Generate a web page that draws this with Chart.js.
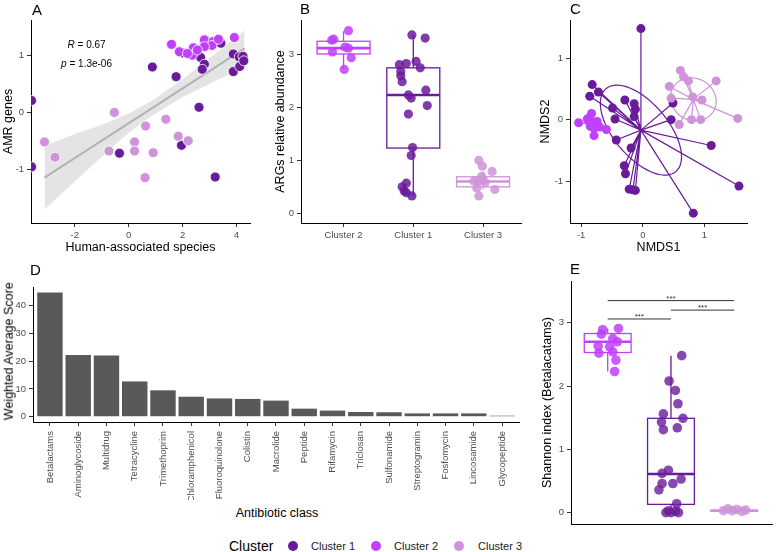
<!DOCTYPE html>
<html>
<head>
<meta charset="utf-8">
<title>Resistome clusters</title>
<script src="https://cdn.jsdelivr.net/npm/chart.js@4.4.1/dist/chart.umd.min.js"></script>
<style>
  html, body { margin: 0; padding: 0; background: #fff; }
  body { position: relative; width: 777px; height: 552px; overflow: hidden; font-family: 'Liberation Sans', Arial, sans-serif; }
  .pane { position: absolute; }
  .tag { position: absolute; font-size: 15px; line-height: 1; color: #000; }
  .lbl { position: absolute; white-space: nowrap; color: #000; font-size: 12.5px; line-height: 1; }
  .key { position: absolute; width: 10px; height: 10px; border-radius: 50%; }
  .keytxt { position: absolute; font-size: 11px; line-height: 1; color: #1a1a1a; white-space: nowrap; }
</style>
</head>
<body>
<div class="pane" id="pA"><canvas></canvas></div>
<div class="pane" id="pB"><canvas></canvas></div>
<div class="pane" id="pC"><canvas></canvas></div>
<div class="pane" id="pD"><canvas></canvas></div>
<div class="pane" id="pE"><canvas></canvas></div>

<div class="tag" style="left:32px;top:2px">A</div>
<div class="tag" style="left:300px;top:1px">B</div>
<div class="tag" style="left:570px;top:1px">C</div>
<div class="tag" style="left:30px;top:262px">D</div>
<div class="tag" style="left:570px;top:261px">E</div>

<div class="lbl" style="left:-91px;top:345px;width:200px;text-align:center;transform:rotate(-90deg)">Weighted Average Score</div>
<div class="lbl" style="left:177px;top:507px;width:200px;text-align:center">Antibiotic class</div>

<div class="lbl" style="left:229px;top:539px;font-size:14px">Cluster</div>
<div class="key" style="left:288px;top:541px;background:#6A1B9A"></div>
<div class="keytxt" style="left:311px;top:541px">Cluster 1</div>
<div class="key" style="left:371px;top:541px;background:#C040FB"></div>
<div class="keytxt" style="left:394px;top:541px">Cluster 2</div>
<div class="key" style="left:454px;top:541px;background:#CE93D8"></div>
<div class="keytxt" style="left:478px;top:541px">Cluster 3</div>

<script>
// cluster colours
const C1 = '#6A1B9A', C2 = '#C040FB', C3 = '#CE93D8';

// A: human-associated species vs AMR genes
const speciesC1 = [-3.6, -3.6, -0.34, 0.88, 1.76, 1.96, 2.61, 3.21, 2.0, 2.33, 2.67, 2.81, 2.73, 3.42, 3.88, 3.88, 4.1, 4.24, 4.12, 4.27, 2.81];
const amrC1 = [0.21, -0.96, -0.72, 0.8, 0.63, -0.58, 0.09, -1.14, 1.05, 1.04, 0.97, 0.85, 0.76, 1.22, 1.03, 0.72, 0.98, 0.99, 0.81, 0.91, 1.23];
const speciesC2 = [1.59, 1.88, 2.4, 2.36, 2.81, 3.13, 3.09, 3.33, 2.81, 3.92, 2.55, 2.18];
const amrC2 = [1.2, 1.07, 1.14, 1.01, 1.28, 1.25, 1.18, 1.29, 1.16, 1.32, 1.1, 1.04];
const speciesC3 = [-3.12, -2.73, -0.53, -0.73, 0.22, 0.22, 0.63, 0.91, 0.61, 1.38, 1.84, 2.21];
const amrC3 = [-0.52, -0.79, 0.0, -0.68, -0.52, -0.68, -0.24, -0.71, -1.15, -0.12, -0.42, -0.5];
const bandX = [-3.12, -2, -1, 0, 0.8, 2, 3, 4.3];
const bandUpper = [-0.59, -0.38, -0.22, -0.02, 0.19, 0.58, 0.96, 1.45];
const bandLower = [-1.71, -1.22, -0.78, -0.36, -0.08, 0.27, 0.5, 0.81];
const fitX = [-3.12, 4.3];
const fitY = [-1.15, 1.13];

// B: ARGs relative abundance (positions 1..3 = Cluster 2, Cluster 1, Cluster 3)
const bLabels = ['Cluster 2', 'Cluster 1', 'Cluster 3'];
const argsC2Pos = [0.83, 0.84, 1.07, 1.02, 1.07, 1.11, 1.01, 0.86];
const argsC2 = [3.26, 3.04, 3.44, 3.13, 3.11, 2.93, 2.71, 3.28];
const argsC1Pos = [1.98, 2.17, 1.8, 1.9, 2.04, 2.1, 1.82, 1.82, 1.84, 1.93, 1.97, 2.18, 2.2, 1.93, 1.99, 1.97, 1.9, 1.84, 1.9, 1.98, 1.87];
const argsC1 = [3.36, 3.3, 2.8, 2.82, 2.86, 2.74, 2.67, 2.59, 2.48, 2.23, 2.17, 2.32, 2.03, 1.87, 1.24, 1.09, 0.57, 0.5, 0.39, 0.33, 0.42];
const argsC3Pos = [2.94, 2.99, 3.13, 2.98, 2.93, 3.03, 2.91, 3.17, 2.94, 2.87, 3.0];
const argsC3 = [1.0, 0.89, 0.79, 0.7, 0.6, 0.58, 0.48, 0.45, 0.33, 0.61, 0.63];
const bLow = [2.72, 0.33, 0.45];
const bQ1 = [3.0, 1.23, 0.5];
const bMed = [3.11, 2.23, 0.6];
const bQ3 = [3.24, 2.74, 0.69];
const bHigh = [3.43, 3.36, 0.79];

// C: NMDS ordination
const nmdsX1 = [-0.03, -0.82, -0.72, -0.86, -0.49, -0.45, -0.29, -0.14, -0.12, -0.14, 0.49, 0.46, -0.43, -0.19, -0.3, -0.28, -0.22, -0.12, 1.11, 1.56, 0.82, -0.16];
const nmdsY1 = [1.48, 0.57, 0.45, 0.38, 0.19, 0.01, 0.32, 0.26, 0.17, 0.05, 0.27, 0.0, -0.33, -0.46, -0.75, -0.88, -1.13, -1.15, -0.42, -1.08, -1.52, -1.14];
const nmdsX2 = [-1.04, -0.86, -0.83, -0.9, -0.77, -0.74, -0.79, -0.79, -0.59, -0.7, -0.85];
const nmdsY2 = [-0.05, 0.04, 0.1, 0.01, -0.08, -0.03, -0.14, -0.26, -0.16, -0.12, -0.11];
const nmdsX3 = [0.61, 0.66, 0.74, 1.19, 0.43, 0.46, 0.96, 0.79, 0.94, 0.59, 1.54, 0.81];
const nmdsY3 = [0.8, 0.7, 0.63, 0.63, 0.54, 0.35, 0.32, 0.0, 0.0, -0.08, 0.02, 0.37];
const centX = [-0.03, -0.8, 0.82];
const centY = [-0.17, -0.07, 0.33];
const ellA = [0.88, 0.12, 0.38];
const ellB = [0.44, 0.08, 0.34];
const ellAngle = [-50, 0, -30];

// D: antibiotic classes
const classes = ['Betalactams', 'Aminoglycoside', 'Multidrug', 'Tetracycline', 'Trimethoprim', 'Chloramphenicol', 'Fluoroquinolone', 'Colistin', 'Macrolide', 'Peptide', 'Rifamycin', 'Triclosan', 'Sulfonamide', 'Streptogramin', 'Fosfomycin', 'Lincosamide', 'Glycopeptide'];
const scores = [44.7, 22.2, 22.0, 12.7, 9.5, 7.2, 6.6, 6.4, 5.8, 2.9, 2.2, 1.7, 1.6, 1.2, 1.2, 1.2, 0.36];

// E: Shannon index of betalactam genes
const shanC2Pos = [0.92, 1.17, 0.9, 1.08, 1.15, 0.85, 1.08, 0.86, 1.13, 1.11, 1.03];
const shanC2 = [2.89, 2.91, 2.82, 2.75, 2.7, 2.63, 2.54, 2.52, 2.41, 2.23, 2.62];
const shanC1Pos = [2.17, 1.97, 2.07, 2.11, 1.88, 2.19, 1.85, 2.1, 1.88, 1.96, 1.86, 2.16, 1.86, 2.03, 1.81, 1.92, 2.0, 2.07, 2.12, 1.96, 2.09];
const shanC1 = [2.48, 2.08, 1.93, 1.72, 1.56, 1.49, 1.43, 1.34, 1.31, 0.67, 0.62, 0.53, 0.46, 0.46, 0.36, 0.0, 0.0, 0.02, 0.0, 0.03, 0.14];
const shanC3Pos = [2.83, 2.9, 2.97, 3.04, 3.12, 3.18];
const shanC3 = [0.03, 0.06, 0.03, 0.05, 0.02, 0.04];
const eLow = [2.23, 0.0, 0.0];
const eQ1 = [2.53, 0.13, 0.02];
const eMed = [2.7, 0.61, 0.03];
const eQ3 = [2.83, 1.49, 0.04];
const eHigh = [2.91, 2.48, 0.06];
const sigFrom = [1, 2, 1];
const sigTo = [3, 3, 2];
const sigAt = [3.35, 3.2, 3.06];

Chart.defaults.font.family = "'Liberation Sans', Arial, sans-serif";
Chart.defaults.animation = false;
Chart.defaults.plugins.legend.display = false;
Chart.defaults.plugins.tooltip.enabled = false;
Chart.defaults.responsive = true;
Chart.defaults.maintainAspectRatio = false;

function pts(xs, ys) { return xs.map((x, i) => ({ x: x, y: ys[i] })); }

function alpha(hex, a) {
  const n = parseInt(hex.slice(1), 16);
  return 'rgba(' + (n >> 16) + ',' + ((n >> 8) & 255) + ',' + (n & 255) + ',' + a + ')';
}

function axis(min, max, ticks, title, fmt) {
  return {
    type: 'linear', min: min, max: max, offset: false,
    afterBuildTicks: s => { s.ticks = ticks.map(v => ({ value: v })); },
    ticks: { color: '#4D4D4D', font: { size: 9.5 }, padding: 3, autoSkip: false, maxRotation: 0, callback: fmt || (v => String(v)) },
    grid: { drawOnChartArea: false, offset: false, tickLength: 4, color: '#333', lineWidth: 1 },
    border: { display: true, color: '#000', width: 1 },
    title: title ? { display: true, text: title, color: '#000', font: { size: 12.5 }, padding: 0 } : { display: false }
  };
}

function scatter(data, color, r, order, border) {
  return {
    type: 'scatter', data: data, order: order,
    pointRadius: r, pointBackgroundColor: color,
    pointBorderColor: border || color, pointBorderWidth: border ? 0.8 : 0
  };
}

// place a canvas box and pin its chart area to fixed page coordinates
function panel(id, rect, area, cfg) {
  const box = document.getElementById(id);
  box.style.left = rect[0] + 'px';
  box.style.top = rect[1] + 'px';
  box.style.width = (rect[2] - rect[0]) + 'px';
  box.style.height = (rect[3] - rect[1]) + 'px';
  cfg.options.layout = { padding: { top: area[1] - rect[1], right: rect[2] - area[2], left: 0, bottom: 0 } };
  cfg.options.scales.y.afterFit = s => { s.width = area[0] - rect[0]; };
  cfg.options.scales.x.afterFit = s => { s.height = rect[3] - area[3]; };
  return new Chart(box.querySelector('canvas'), cfg);
}

function boxPlugin(pos, lo, q1, med, q3, hi, colors, half) {
  return {
    id: 'boxes',
    beforeDatasetsDraw(chart) {
      const { ctx, scales: { x, y } } = chart;
      ctx.save();
      pos.forEach((p, i) => {
        const xl = x.getPixelForValue(p - half), xr = x.getPixelForValue(p + half), xc = x.getPixelForValue(p);
        ctx.strokeStyle = colors[i];
        ctx.lineWidth = 1.3;
        ctx.beginPath();
        ctx.moveTo(xc, y.getPixelForValue(hi[i])); ctx.lineTo(xc, y.getPixelForValue(q3[i]));
        ctx.moveTo(xc, y.getPixelForValue(q1[i])); ctx.lineTo(xc, y.getPixelForValue(lo[i]));
        ctx.stroke();
        const yt = y.getPixelForValue(q3[i]), yb = y.getPixelForValue(q1[i]);
        ctx.fillStyle = '#fff';
        ctx.fillRect(xl, yt, xr - xl, yb - yt);
        ctx.strokeRect(xl, yt, xr - xl, yb - yt);
        ctx.lineWidth = 2.6;
        ctx.beginPath();
        const ym = y.getPixelForValue(med[i]);
        ctx.moveTo(xl, ym); ctx.lineTo(xr, ym);
        ctx.stroke();
      });
      ctx.restore();
    }
  };
}

// ---------- A ----------
panel('pA', [1, 0, 256, 255], [31, 20, 250, 223], {
  data: {
    datasets: [
      { type: 'line', data: pts(bandX, bandUpper), order: 20, borderWidth: 0, pointRadius: 0, fill: '+1', backgroundColor: 'rgba(190,190,190,0.42)' },
      { type: 'line', data: pts(bandX, bandLower), order: 21, borderWidth: 0, pointRadius: 0, fill: false },
      { type: 'line', data: pts(fitX, fitY), order: 19, borderColor: '#B3B3B3', borderWidth: 2, pointRadius: 0, fill: false },
      scatter(pts(speciesC2, amrC2), C2, 5, 1, '#fff'),
      scatter(pts(speciesC3, amrC3), C3, 5, 2, '#fff'),
      scatter(pts(speciesC1, amrC1), C1, 5, 3, '#fff')
    ]
  },
  options: {
    scales: {
      x: axis(-3.62, 4.5, [-2, 0, 2, 4], 'Human-associated species'),
      y: axis(-1.95, 1.63, [-1, 0, 1], 'AMR genes')
    }
  },
  plugins: [{
    id: 'stat',
    afterDatasetsDraw(chart) {
      const { ctx, scales: { x, y } } = chart;
      ctx.save();
      ctx.fillStyle = '#000';
      ctx.textBaseline = 'middle';
      const cx = x.getPixelForValue(-1.56);
      [['R', ' = 0.67', 1.19], ['p', ' = 1.3e-06', 0.85]].forEach(([v, rest, yy]) => {
        ctx.font = "italic 10px 'Liberation Sans', Arial, sans-serif";
        const w1 = ctx.measureText(v).width;
        ctx.font = "10px 'Liberation Sans', Arial, sans-serif";
        const w2 = ctx.measureText(rest).width;
        const x0 = cx - (w1 + w2) / 2, py = y.getPixelForValue(yy);
        ctx.font = "italic 10px 'Liberation Sans', Arial, sans-serif";
        ctx.fillText(v, x0, py);
        ctx.font = "10px 'Liberation Sans', Arial, sans-serif";
        ctx.fillText(rest, x0 + w1, py);
      });
      ctx.restore();
    }
  }]
});

// ---------- B ----------
panel('pB', [273, 0, 526, 255], [301, 20, 522, 223], {
  data: {
    datasets: [
      scatter(pts(argsC2Pos, argsC2), alpha(C2, 0.85), 4.6, 1),
      scatter(pts(argsC1Pos, argsC1), alpha(C1, 0.85), 4.6, 2),
      scatter(pts(argsC3Pos, argsC3), alpha(C3, 0.85), 4.6, 3)
    ]
  },
  options: {
    scales: {
      x: axis(0.39, 3.55, [1, 2, 3], null, v => bLabels[v - 1]),
      y: axis(-0.18, 3.64, [0, 1, 2, 3], 'ARGs relative abundance')
    }
  },
  plugins: [boxPlugin([1, 2, 3], bLow, bQ1, bMed, bQ3, bHigh, [C2, C1, C3], 0.38)]
});

// ---------- C ----------
const groups = [[nmdsX1, nmdsY1, C1], [nmdsX2, nmdsY2, C2], [nmdsX3, nmdsY3, C3]];
panel('pC', [538, 0, 777, 255], [570, 20, 747, 223], {
  data: {
    datasets: [
      scatter(pts(nmdsX1, nmdsY1), C1, 4.5, 3),
      scatter(pts(nmdsX2, nmdsY2), C2, 4.5, 2),
      scatter(pts(nmdsX3, nmdsY3), C3, 4.5, 1)
    ]
  },
  options: {
    scales: {
      x: axis(-1.18, 1.69, [-1, 0, 1], 'NMDS1'),
      y: axis(-1.68, 1.62, [-1, 0, 1], 'NMDS2')
    }
  },
  plugins: [{
    id: 'spider',
    beforeDatasetsDraw(chart) {
      const { ctx, scales: { x, y } } = chart;
      ctx.save();
      ctx.lineWidth = 1.2;
      groups.forEach(([gx, gy, col], g) => {
        ctx.strokeStyle = col;
        const px = x.getPixelForValue(centX[g]), py = y.getPixelForValue(centY[g]);
        ctx.beginPath();
        gx.forEach((v, i) => { ctx.moveTo(px, py); ctx.lineTo(x.getPixelForValue(v), y.getPixelForValue(gy[i])); });
        ctx.stroke();
        const th = ellAngle[g] * Math.PI / 180;
        ctx.beginPath();
        for (let k = 0; k <= 72; k++) {
          const t = k / 72 * 2 * Math.PI;
          const ex = centX[g] + ellA[g] * Math.cos(t) * Math.cos(th) - ellB[g] * Math.sin(t) * Math.sin(th);
          const ey = centY[g] + ellA[g] * Math.cos(t) * Math.sin(th) + ellB[g] * Math.sin(t) * Math.cos(th);
          const qx = x.getPixelForValue(ex), qy = y.getPixelForValue(ey);
          if (k === 0) ctx.moveTo(qx, qy); else ctx.lineTo(qx, qy);
        }
        ctx.stroke();
      });
      ctx.restore();
    }
  }]
});

// ---------- D ----------
const dAxisX = axis(-0.6, 16.6, classes.map((c, i) => i), null, v => classes[v]);
dAxisX.ticks.minRotation = 90;
dAxisX.ticks.maxRotation = 90;
dAxisX.ticks.padding = 5;
panel('pD', [1, 262, 525, 500], [33, 287, 519, 422], {
  type: 'bar',
  data: {
    datasets: [{
      data: pts(classes.map((c, i) => i), scores),
      backgroundColor: '#595959', borderWidth: 0,
      barPercentage: 0.9, categoryPercentage: 1.0
    }]
  },
  options: {
    scales: {
      x: dAxisX,
      y: axis(-1.9, 46.7, [0, 10, 20, 30, 40], null)
    }
  }
});

// ---------- E ----------
const eAxisX = axis(0.42, 3.6, [1, 2, 3], null);
eAxisX.ticks.display = false;
eAxisX.grid.display = false;
panel('pE', [540, 262, 777, 540], [571, 281, 777, 524], {
  data: {
    datasets: [
      scatter(pts(shanC2Pos, shanC2), alpha(C2, 0.85), 4.8, 1),
      scatter(pts(shanC1Pos, shanC1), alpha(C1, 0.8), 4.8, 2),
      scatter(pts(shanC3Pos, shanC3), alpha(C3, 0.85), 4.8, 3)
    ]
  },
  options: {
    scales: {
      x: eAxisX,
      y: axis(-0.18, 3.66, [0, 1, 2, 3], 'Shannon index (Betalacatams)')
    }
  },
  plugins: [boxPlugin([1, 2, 3], eLow, eQ1, eMed, eQ3, eHigh, [C2, C1, C3], 0.37), {
    id: 'sig',
    afterDatasetsDraw(chart) {
      const { ctx, scales: { x, y } } = chart;
      ctx.save();
      ctx.strokeStyle = '#333';
      ctx.fillStyle = '#333';
      ctx.lineWidth = 1;
      ctx.font = "8px 'Liberation Sans', Arial, sans-serif";
      ctx.textAlign = 'center';
      ctx.textBaseline = 'bottom';
      sigAt.forEach((v, i) => {
        const x1 = x.getPixelForValue(sigFrom[i]), x2 = x.getPixelForValue(sigTo[i]), py = y.getPixelForValue(v);
        ctx.beginPath(); ctx.moveTo(x1, py); ctx.lineTo(x2, py); ctx.stroke();
        ctx.fillText('***', (x1 + x2) / 2, py + 2);
      });
      ctx.restore();
    }
  }]
});
</script>
</body>
</html>
